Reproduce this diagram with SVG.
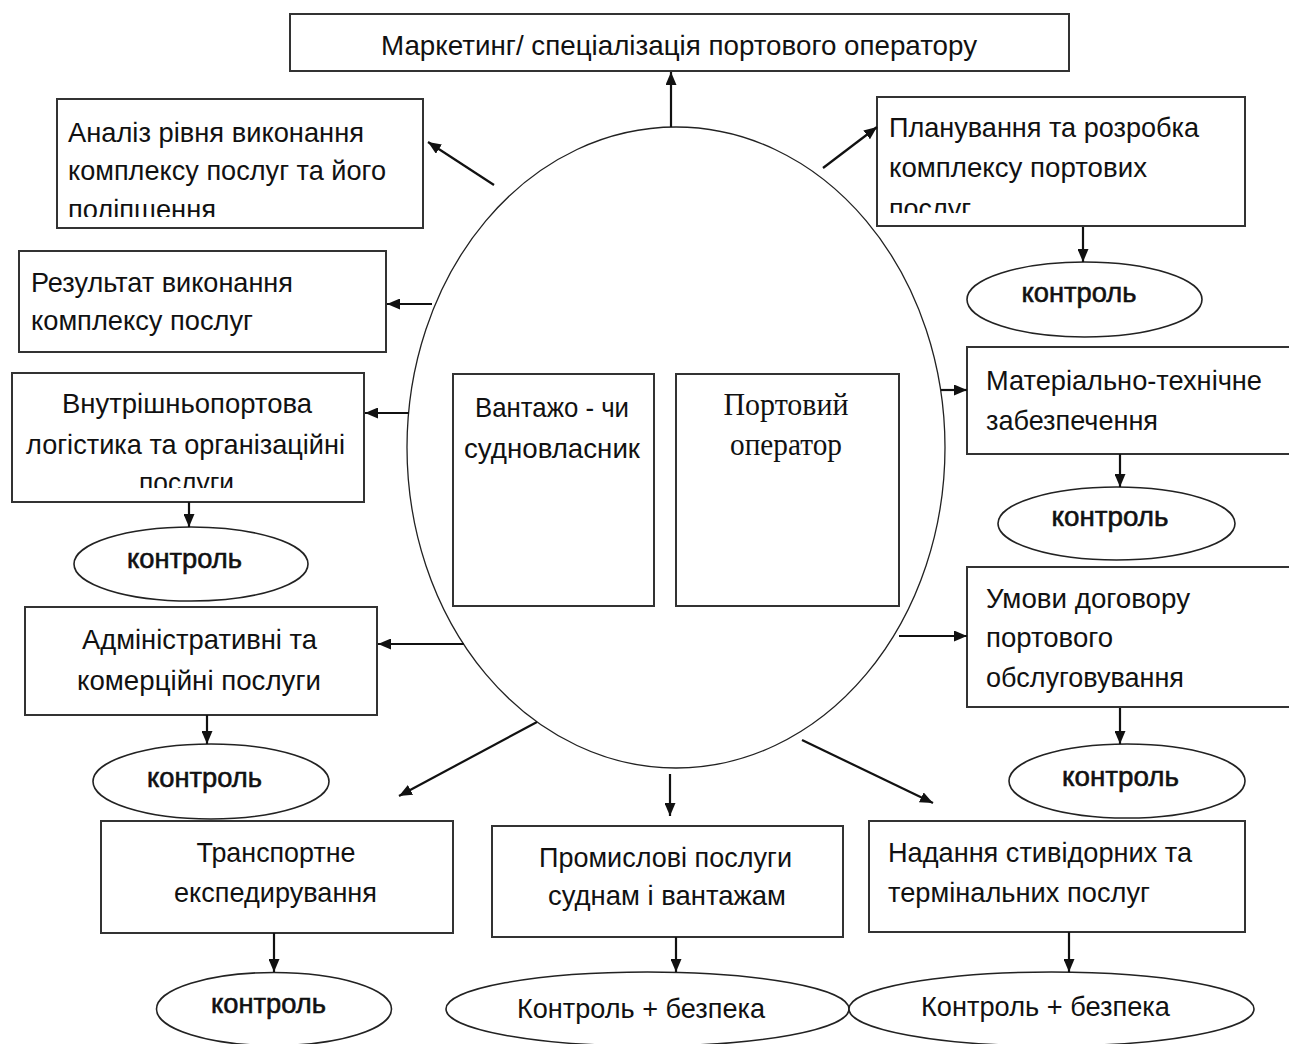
<svg xmlns="http://www.w3.org/2000/svg" width="1289" height="1044" viewBox="0 0 1289 1044">
<style>
.box{fill:#fff;stroke:#333;stroke-width:2}
.ell{fill:#fff;stroke:#222;stroke-width:1.6}
.big{fill:none;stroke:#222;stroke-width:1.3}
.t{font-family:"Liberation Sans",Arial,sans-serif;font-size:28px;fill:#111}
.k{font-family:"Liberation Sans",Arial,sans-serif;font-size:28px;fill:#111;stroke:#111;stroke-width:0.6}
.s{font-family:"Liberation Serif","Times New Roman",serif;font-size:31px;fill:#111}
.c{text-anchor:middle}
.a{stroke:#111;stroke-width:2.2;fill:none;marker-end:url(#ah)}
</style>
<defs>
<marker id="ah" markerUnits="userSpaceOnUse" markerWidth="13" markerHeight="11" refX="13" refY="5.5" orient="auto">
<path d="M0,0 L13,5.5 L0,11 z" fill="#111"/>
</marker>
<clipPath id="cpA"><rect x="57" y="99" width="366" height="118"/></clipPath>
<clipPath id="cpP"><rect x="877" y="97" width="368" height="116"/></clipPath>
<clipPath id="cpV"><rect x="12" y="373" width="352" height="115"/></clipPath>
</defs>
<rect width="1289" height="1044" fill="#fff"/>

<g id="center">
<ellipse class="big" cx="676" cy="447.5" rx="269" ry="320.5"/>
</g>
<g id="cargo-owner">
<rect class="box" x="453" y="374" width="201" height="232"/>
<text class="t c" x="552" y="417" textLength="154" lengthAdjust="spacingAndGlyphs">Вантажо - чи</text>
<text class="t c" x="552" y="458" textLength="176" lengthAdjust="spacingAndGlyphs">судновласник</text>
</g>
<g id="port-operator">
<rect class="box" x="676" y="374" width="223" height="232"/>
<text class="s c" x="786" y="415" textLength="125" lengthAdjust="spacingAndGlyphs">Портовий</text>
<text class="s c" x="786" y="455" textLength="112" lengthAdjust="spacingAndGlyphs">оператор</text>
</g>

<g id="marketing">
<rect class="box" x="290" y="14" width="779" height="57"/>
<text class="t" x="381" y="55" textLength="596" lengthAdjust="spacingAndGlyphs">Маркетинг/ спеціалізація портового оператору</text>
</g>

<g id="analysis">
<rect class="box" x="57" y="99" width="366" height="129"/>
<text class="t" x="68" y="142" textLength="296" lengthAdjust="spacingAndGlyphs">Аналіз рівня виконання</text>
<text class="t" x="68" y="180" textLength="318" lengthAdjust="spacingAndGlyphs">комплексу послуг та його</text>
<text class="t" x="68" y="219" textLength="148" lengthAdjust="spacingAndGlyphs" clip-path="url(#cpA)">поліпшення</text>
</g>

<g id="planning">
<rect class="box" x="877" y="97" width="368" height="129"/>
<text class="t" x="889" y="137" textLength="310" lengthAdjust="spacingAndGlyphs">Планування та розробка</text>
<text class="t" x="889" y="177" textLength="258" lengthAdjust="spacingAndGlyphs">комплексу портових</text>
<text class="t" x="889" y="217.5" textLength="82" lengthAdjust="spacingAndGlyphs" clip-path="url(#cpP)">послуг</text>
</g>
<g id="control-planning">
<ellipse class="ell" cx="1084.5" cy="299.5" rx="117.5" ry="37.5"/>
<text class="k c" x="1079" y="302" textLength="115" lengthAdjust="spacingAndGlyphs">контроль</text>
</g>

<g id="result">
<rect class="box" x="19" y="251" width="367" height="101"/>
<text class="t" x="31" y="292" textLength="262" lengthAdjust="spacingAndGlyphs">Результат виконання</text>
<text class="t" x="31" y="330" textLength="222" lengthAdjust="spacingAndGlyphs">комплексу послуг</text>
</g>

<g id="logistics">
<rect class="box" x="12" y="373" width="352" height="129"/>
<text class="t c" x="187" y="413" textLength="250" lengthAdjust="spacingAndGlyphs">Внутрішньопортова</text>
<text class="t c" x="185.5" y="454" textLength="319" lengthAdjust="spacingAndGlyphs">логістика та організаційні</text>
<text class="t c" x="186.5" y="491.5" textLength="95" lengthAdjust="spacingAndGlyphs" clip-path="url(#cpV)">послуги</text>
</g>
<g id="control-logistics">
<ellipse class="ell" cx="191" cy="564" rx="117" ry="37"/>
<text class="k c" x="184.5" y="568" textLength="115" lengthAdjust="spacingAndGlyphs">контроль</text>
</g>

<g id="admin">
<rect class="box" x="25" y="607" width="352" height="108"/>
<text class="t c" x="199.5" y="649" textLength="235" lengthAdjust="spacingAndGlyphs">Адміністративні та</text>
<text class="t c" x="199" y="690" textLength="244" lengthAdjust="spacingAndGlyphs">комерційні послуги</text>
</g>
<g id="control-admin">
<ellipse class="ell" cx="211" cy="781.5" rx="118" ry="37.5"/>
<text class="k c" x="204.5" y="787" textLength="115" lengthAdjust="spacingAndGlyphs">контроль</text>
</g>

<g id="material">
<rect class="box" x="967" y="347" width="340" height="107"/>
<text class="t" x="986" y="390" textLength="276" lengthAdjust="spacingAndGlyphs">Матеріально-технічне</text>
<text class="t" x="986" y="430" textLength="172" lengthAdjust="spacingAndGlyphs">забезпечення</text>
</g>
<g id="control-material">
<ellipse class="ell" cx="1116.5" cy="523.5" rx="118.5" ry="36.5"/>
<text class="k c" x="1110" y="526" textLength="117" lengthAdjust="spacingAndGlyphs">контроль</text>
</g>

<g id="contract">
<rect class="box" x="967" y="567" width="340" height="140"/>
<text class="t" x="986" y="608" textLength="204" lengthAdjust="spacingAndGlyphs">Умови договору</text>
<text class="t" x="986" y="647" textLength="127" lengthAdjust="spacingAndGlyphs">портового</text>
<text class="t" x="986" y="687" textLength="198" lengthAdjust="spacingAndGlyphs">обслуговування</text>
</g>
<g id="control-contract">
<ellipse class="ell" cx="1127" cy="781" rx="118" ry="37"/>
<text class="k c" x="1120.5" y="786" textLength="117" lengthAdjust="spacingAndGlyphs">контроль</text>
</g>

<g id="transport">
<rect class="box" x="101" y="821" width="352" height="112"/>
<text class="t c" x="276" y="862" textLength="159" lengthAdjust="spacingAndGlyphs">Транспортне</text>
<text class="t c" x="275.5" y="902" textLength="203" lengthAdjust="spacingAndGlyphs">експедирування</text>
</g>
<g id="control-transport">
<ellipse class="ell" cx="274" cy="1009" rx="117.5" ry="36.5"/>
<text class="k c" x="268.5" y="1013" textLength="115" lengthAdjust="spacingAndGlyphs">контроль</text>
</g>

<g id="industrial">
<rect class="box" x="492" y="826" width="351" height="111"/>
<text class="t c" x="665.5" y="867" textLength="253" lengthAdjust="spacingAndGlyphs">Промислові послуги</text>
<text class="t c" x="667" y="905" textLength="238" lengthAdjust="spacingAndGlyphs">суднам і вантажам</text>
</g>
<g id="control-safety-1">
<ellipse class="ell" cx="647.5" cy="1009" rx="201.5" ry="37"/>
<text class="t c" x="641" y="1018" textLength="248" lengthAdjust="spacingAndGlyphs">Контроль + безпека</text>
</g>

<g id="stevedoring">
<rect class="box" x="869" y="821" width="376" height="111"/>
<text class="t" x="888" y="862" textLength="304" lengthAdjust="spacingAndGlyphs">Надання стивідорних та</text>
<text class="t" x="888" y="902" textLength="262" lengthAdjust="spacingAndGlyphs">термінальних послуг</text>
</g>
<g id="control-safety-2">
<ellipse class="ell" cx="1051.5" cy="1009" rx="202.5" ry="37"/>
<text class="t c" x="1045.5" y="1016" textLength="249" lengthAdjust="spacingAndGlyphs">Контроль + безпека</text>
</g>

<g id="connectors">
<line class="a" x1="671" y1="127" x2="671" y2="72"/>
<line class="a" x1="494" y1="185" x2="428" y2="142"/>
<line class="a" x1="823" y1="168" x2="877" y2="127"/>
<line class="a" x1="432" y1="304" x2="387" y2="304"/>
<line class="a" x1="409" y1="413" x2="365" y2="413"/>
<line class="a" x1="464" y1="644" x2="378" y2="644"/>
<line class="a" x1="941" y1="390" x2="967" y2="390"/>
<line class="a" x1="899" y1="636" x2="967" y2="636"/>
<line class="a" x1="537" y1="722" x2="399" y2="796"/>
<line class="a" x1="670" y1="774" x2="670" y2="816"/>
<line class="a" x1="802" y1="740" x2="933" y2="803"/>
<line class="a" x1="1083" y1="227" x2="1083" y2="262"/>
<line class="a" x1="189" y1="502" x2="189" y2="527"/>
<line class="a" x1="207" y1="715" x2="207" y2="744"/>
<line class="a" x1="1120" y1="454" x2="1120" y2="487"/>
<line class="a" x1="1120" y1="708" x2="1120" y2="744"/>
<line class="a" x1="274" y1="933" x2="274" y2="972"/>
<line class="a" x1="676" y1="937" x2="676" y2="972"/>
<line class="a" x1="1069" y1="932" x2="1069" y2="972"/>
</g>
</svg>
